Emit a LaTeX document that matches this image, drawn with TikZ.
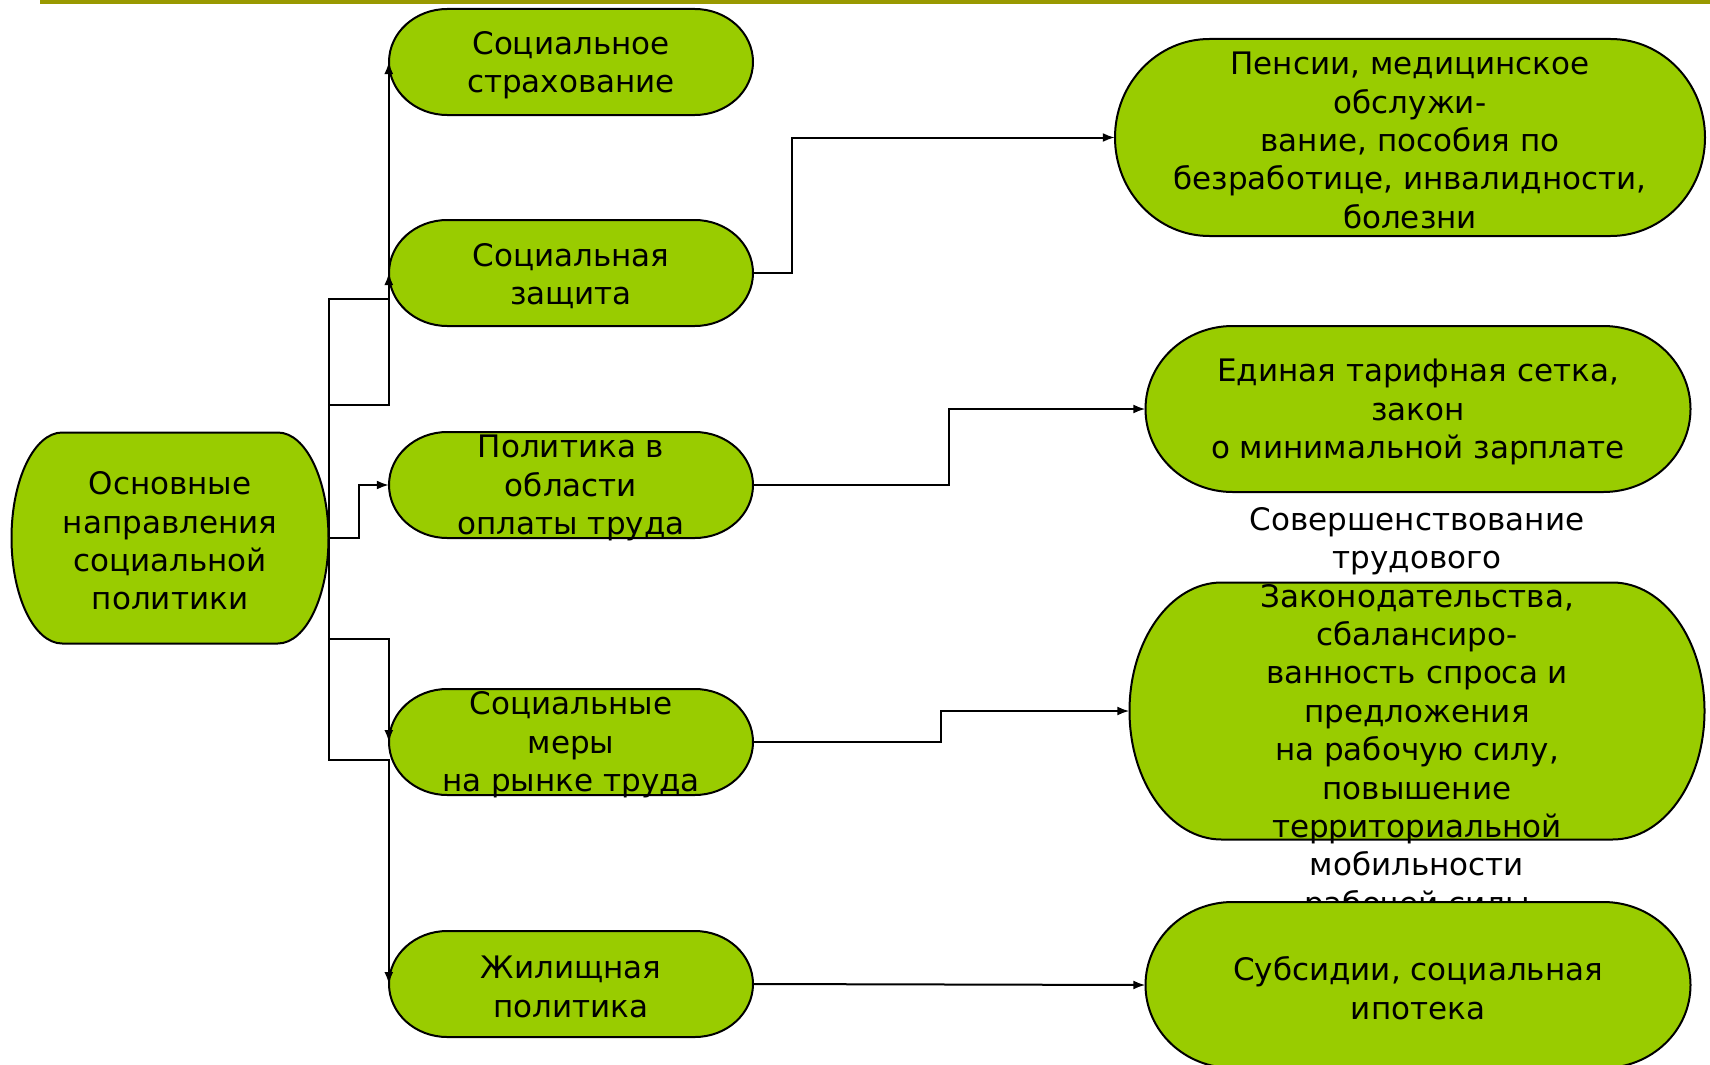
\documentclass[tikz,border=0pt]{standalone}
\usepackage{fontspec}
\setmainfont{DejaVu Sans}
\usetikzlibrary{arrows.meta}
\definecolor{termgreen}{HTML}{99CC00}
\definecolor{olive}{HTML}{999900}
\tikzset{
  termshape/.style={fill=termgreen,draw=black,line width=2pt},
  termbox/.style={shape=rectangle,inner sep=0pt},
  termtext/.style={shape=rectangle,inner sep=0pt,align=center,font=\fontsize{31}{38.4}\selectfont},
  conn/.style={draw=black,line width=2pt,-{Latex[length=12pt,width=9pt]}},
}
\newcommand\term[6]{%
  \draw[termshape] ({#2+#4/2-0.16*#4},{#3-#5/2}) arc[start angle=-90,end angle=90,x radius={0.16*#4},y radius={#5/2}]
    -- ({#2-#4/2+0.16*#4},{#3+#5/2}) arc[start angle=90,end angle=270,x radius={0.16*#4},y radius={#5/2}] -- cycle;
  \node[termbox,minimum width=#4pt,minimum height=#5pt] (#1) at (#2,#3) {};
  \node[termtext] (#1-t) at ([yshift=-3pt]#1.center) {#6};
}
\begin{document}
\begin{tikzpicture}[x=1pt,y=-1pt]
\fill[white] (0,0) rectangle (1710,1065);
\useasboundingbox (0,0) rectangle (1710,1065);
\fill[olive] (40,0) rectangle (1710,4);
% left column
\term{M}{170}{538}{317}{211}{Основные\\направления\\социальной\\политики}
\term{N1}{571}{62}{364}{106}{Социальное\\страхование}
\term{N2}{571}{273}{364}{106}{Социальная\\защита}
\term{N3}{571}{485}{364}{106}{Политика в\\области\\оплаты труда}
\term{N4}{571}{742}{364}{106}{Социальные\\меры\\на рынке труда}
\term{N5}{571}{984}{364}{106}{Жилищная\\политика}
% right column
\term{R1}{1410}{137.5}{590}{197}{Пенсии, медицинское\\обслужи-\\вание, пособия по\\безработице, инвалидности,\\болезни}
\term{R2}{1418}{409}{545}{166}{Единая тарифная сетка,\\закон\\о минимальной зарплате}
\term{R3}{1417}{711}{575}{257}{Совершенствование\\трудового\\Законодательства,\\сбалансиро-\\ванность спроса и\\предложения\\на рабочую силу,\\повышение\\территориальной\\мобильности\\рабочей силы}
\term{R4}{1418}{985}{545}{166}{Субсидии, социальная\\ипотека}
% connectors from main node
\draw[conn] (M.east) -- (M.east |- 0,405) -- (N1.west |- 0,405) -- (N1.west);
\draw[conn] (M.east) -- (M.east |- 0,299) -- (N2.west |- 0,299) -- (N2.west);
\draw[conn] (M.east) -- (359,538) -- (359,485) -- (N3.west);
\draw[conn] (M.east) -- (M.east |- 0,639) -- (N4.west |- 0,639) -- (N4.west);
\draw[conn] (M.east) -- (M.east |- 0,760) -- (N5.west |- 0,760) -- (N5.west);
% connectors to right column
\draw[conn] (N2.east) -- (792,273) -- (792,137.5) -- (R1.west);
\draw[conn] (N3.east) -- (949,485) -- (949,409) -- (R2.west);
\draw[conn] (N4.east) -- (941,742) -- (941,711) -- (R3.west);
\draw[conn] (N5.east) -- (R4.west);
\end{tikzpicture}
\end{document}
